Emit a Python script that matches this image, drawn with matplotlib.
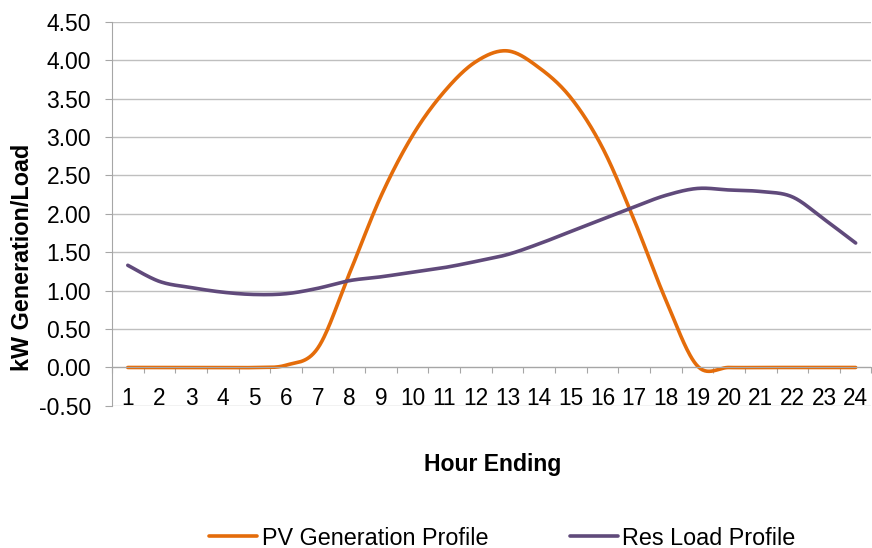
import numpy as np
import matplotlib
matplotlib.use("Agg")
import matplotlib.pyplot as plt

plt.rcParams['font.family'] = ['Liberation Sans', 'DejaVu Sans']

# hourly profiles (hour ending 1..24)
hours = np.arange(1, 25)
pv_gen = [0.00, 0.00, 0.00, 0.00, 0.00, 0.03, 0.25, 1.22, 2.23, 3.02, 3.59, 3.98,
          4.12, 3.90, 3.51, 2.86, 1.92, 0.88, 0.02, 0.00, 0.00, 0.00, 0.00, 0.00]
res_load = [1.33, 1.12, 1.04, 0.98, 0.95, 0.96, 1.03, 1.13, 1.18, 1.24, 1.30, 1.38,
            1.47, 1.61, 1.77, 1.93, 2.09, 2.24, 2.33, 2.31, 2.29, 2.22, 1.93, 1.62]

y_ticks = np.arange(-0.5, 4.51, 0.5)


def smooth(x, y, n=30):
    # catmull-rom style smoothing, like a spreadsheet "smoothed line"
    x = np.asarray(x, float)
    y = np.asarray(y, float)
    xs, ys = [], []
    for i in range(len(x) - 1):
        p0 = (x[max(i - 1, 0)], y[max(i - 1, 0)])
        p1 = (x[i], y[i])
        p2 = (x[i + 1], y[i + 1])
        p3 = (x[min(i + 2, len(x) - 1)], y[min(i + 2, len(x) - 1)])
        c1 = (p1[0] + (p2[0] - p0[0]) / 6, p1[1] + (p2[1] - p0[1]) / 6)
        c2 = (p2[0] - (p3[0] - p1[0]) / 6, p2[1] - (p3[1] - p1[1]) / 6)
        t = np.linspace(0, 1, n, endpoint=(i == len(x) - 2))
        a = (1 - t) ** 3
        b = 3 * (1 - t) ** 2 * t
        c = 3 * (1 - t) * t ** 2
        d = t ** 3
        xs.append(a * p1[0] + b * c1[0] + c * c2[0] + d * p2[0])
        ys.append(a * p1[1] + b * c1[1] + c * c2[1] + d * p2[1])
    return np.concatenate(xs), np.concatenate(ys)


fig = plt.figure(figsize=(8.72, 5.48), dpi=100)
ax = fig.add_axes([0.1284, 0.2593, 0.871, 0.7011])

sx, sy = smooth(hours, pv_gen)
ax.plot(sx, sy, color='#E46C0A', lw=2.6, label='PV Generation Profile', solid_capstyle='round')
sx, sy = smooth(hours, res_load)
ax.plot(sx, sy, color='#604A7B', lw=2.6, label='Res Load Profile', solid_capstyle='round')

ax.set_xlim(0.5, 24.5)
ax.set_ylim(-0.5, 4.5)
ax.set_yticks(y_ticks)
ax.set_yticklabels([f'{v:.2f}' for v in y_ticks])
ax.yaxis.grid(True, color='#BFBFBF', lw=1.0)
ax.set_axisbelow(True)

for s in ['top', 'right']:
    ax.spines[s].set_visible(False)
ax.spines['left'].set_color('#A6A6A6')
ax.spines['bottom'].set_position(('data', 0))
ax.spines['bottom'].set_color('#A6A6A6')

# tick marks between categories, labels at category centres
ax.set_xticks(np.arange(0.5, 24.6, 1.0))
ax.set_xticklabels([])
ax.set_xticks(hours, minor=True)
ax.set_xticklabels([str(h) for h in hours], minor=True)
ax.tick_params(axis='x', which='major', length=4.5, color='#A6A6A6', direction='out')
ax.tick_params(axis='x', which='minor', length=0, pad=14, labelsize=16.3)
ax.tick_params(axis='y', length=5, color='#A6A6A6', labelsize=16.5, pad=10)

fig.text(0.026, 0.531, 'kW Generation/Load', rotation=90, fontsize=16.8,
         fontweight='bold', ha='center', va='center')
fig.text(0.565, 0.153, 'Hour Ending', fontsize=16.6, fontweight='bold',
         ha='center', va='center')

fig.legend(loc='center', ncol=2, frameon=False, fontsize=16.8,
           bbox_to_anchor=(0.576, 0.018), handlelength=2.05, handletextpad=0.2,
           columnspacing=3.5, borderpad=0)

fig.savefig('out.png', dpi=100)
